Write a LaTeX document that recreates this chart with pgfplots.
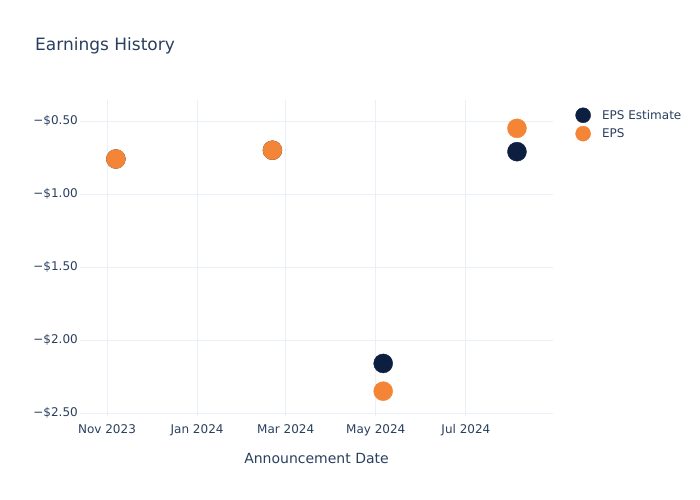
\documentclass[border=0pt]{standalone}
\usepackage{pgfplots}
\pgfplotsset{compat=1.18}
\usepackage{fontspec}
\setmainfont{DejaVu Sans}
\definecolor{txt}{HTML}{2A3F5F}
\definecolor{gridc}{HTML}{EBF0F8}
\definecolor{est}{HTML}{0C1F40}
\definecolor{eps}{HTML}{F58536}
\begin{document}
\begin{tikzpicture}[x=1bp,y=1bp]
\path[use as bounding box] (0,0) rectangle (700,500);
\node[anchor=base west, text=txt, font=\fontsize{17bp}{20bp}\selectfont, inner sep=0pt] at (35,449) {Earnings History};
\begin{axis}[
  at={(80bp,84bp)}, anchor=south west, scale only axis,
  width=473bp, height=316bp,
  xmin=-18.3, xmax=302, ymin=-2.52, ymax=-0.356,
  axis line style={draw=none},
  major tick length=0pt,
  grid=major, major grid style={gridc, line width=0.8pt},
  xtick={0,61,121,182,243},
  xticklabels={Nov 2023, Jan 2024, Mar 2024, May 2024, Jul 2024},
  ytick={-2.5,-2,-1.5,-1,-0.5},
  yticklabels={−\$2.50, −\$2.00, −\$1.50, −\$1.00, −\$0.50},
  tick label style={text=txt, font=\fontsize{12bp}{14bp}\selectfont},
  yticklabel style={inner sep=0pt, xshift=-2bp},
  xticklabel style={inner sep=0pt, yshift=-8bp},
  xlabel={Announcement Date},
  xlabel style={text=txt, font=\fontsize{14bp}{16bp}\selectfont, inner sep=0pt, yshift=-17bp},
  legend style={at={(1.04,0.983)}, anchor=north west, draw=none, fill=none,
    font=\fontsize{12bp}{14bp}\selectfont, text=txt, row sep=3bp,
    legend cell align=left},
  legend image code/.code={\fill[#1] (0,0) circle (7.5bp); \path[draw=none, fill=none] (-8bp,0) -- (17bp,0);},
]
\addplot[only marks, mark=*, mark size=9.5bp, est, mark options={draw=none, fill=est}] coordinates {
(6,-0.76) (112,-0.70) (187,-2.16) (277.6,-0.71)
};
\addlegendentry{EPS Estimate}
\addplot[only marks, mark=*, mark size=9.5bp, eps, mark options={draw=none, fill=eps}] coordinates {
(6,-0.76) (112,-0.70) (187,-2.35) (277.6,-0.55)
};
\addlegendentry{EPS}
\end{axis}
\end{tikzpicture}
\end{document}
